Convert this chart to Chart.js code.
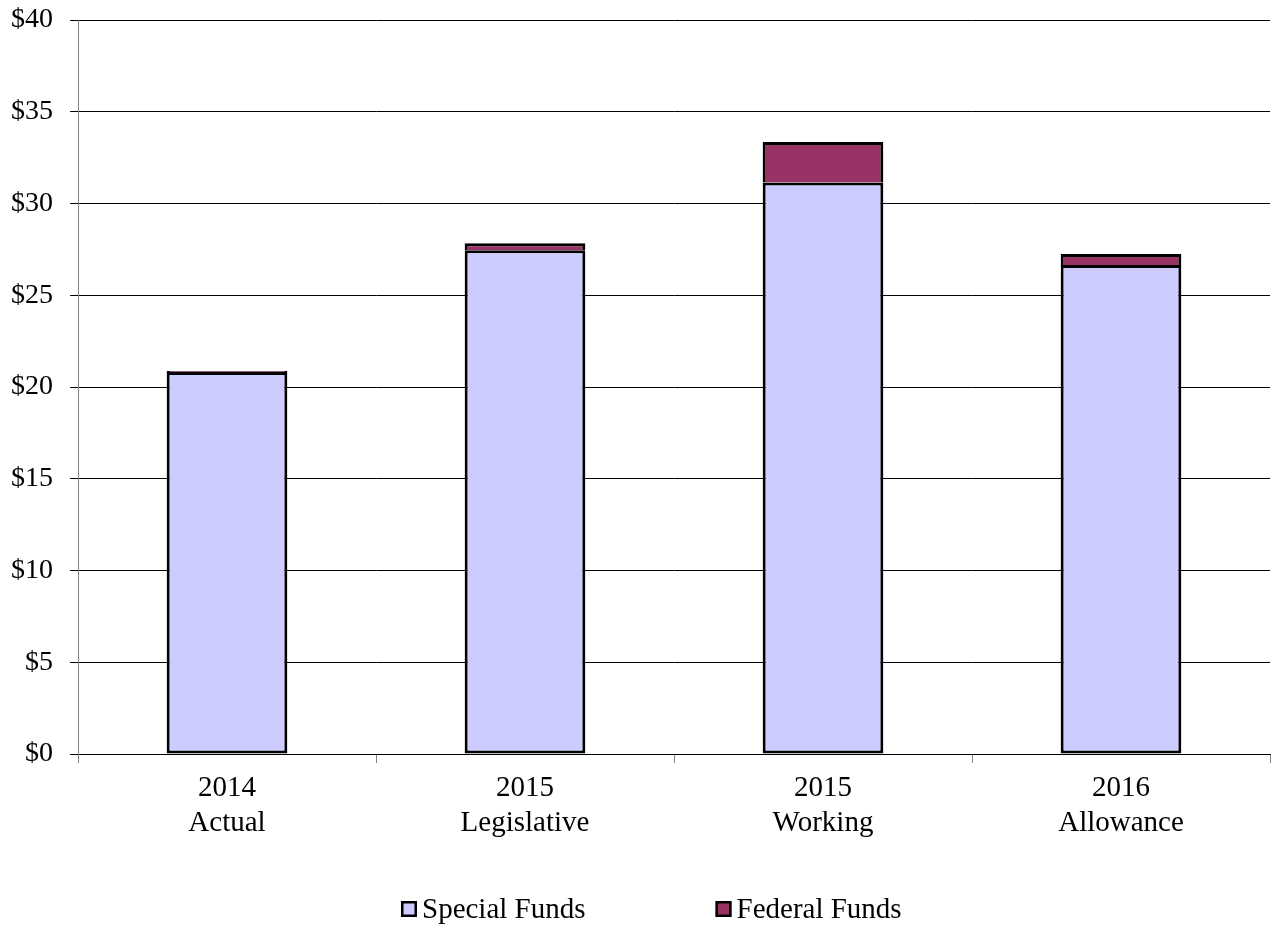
<!DOCTYPE html>
<html>
<head>
<meta charset="utf-8">
<script src="https://cdn.jsdelivr.net/npm/chart.js@4/dist/chart.umd.min.js"></script>
<style>
  body { margin: 0; background: #fff; }
</style>
</head>
<body>
<canvas id="fundsChart" width="1272" height="926"></canvas>
<script>
const categories = [['2014', 'Actual'], ['2015', 'Legislative'], ['2015', 'Working'], ['2016', 'Allowance']];
const specialFunds = [20.82, 27.45, 31.15, 26.65];
const federalFunds = [0.05, 0.38, 2.2, 0.6];
const yTicks = [0, 5, 10, 15, 20, 25, 30, 35, 40];

const serif = '"Liberation Serif", "Times New Roman", serif';
Chart.defaults.font.family = serif;
Chart.defaults.font.size = 28;
Chart.defaults.color = '#000';

// legend drawn by hand: small box right against the text, wide gap between items
const boxLegend = {
    id: 'boxLegend',
    afterDraw(chart) {
        const c = chart.ctx;
        const box = 16, textGap = 5, itemGap = 130;
        const y = 909;
        let x = 401;
        c.save();
        c.font = '29px ' + serif;
        c.textBaseline = 'middle';
        chart.data.datasets.forEach(ds => {
            c.fillStyle = ds.backgroundColor;
            c.fillRect(x, y - box / 2, box, box);
            c.lineWidth = 2.5;
            c.strokeStyle = '#000';
            c.strokeRect(x + 1.25, y - box / 2 + 1.25, box - 2.5, box - 2.5);
            c.fillStyle = '#000';
            c.fillText(ds.label, x + box + textGap, y + 1);
            x += box + textGap + c.measureText(ds.label).width + itemGap;
        });
        c.restore();
    }
};

const ctx = document.getElementById('fundsChart').getContext('2d');
new Chart(ctx, {
    type: 'bar',
    data: {
        labels: categories,
        datasets: [
            {
                label: 'Special Funds',
                data: specialFunds,
                backgroundColor: '#ccccff',
                borderColor: '#000',
                borderWidth: 3,
                borderSkipped: false,
                categoryPercentage: 0.405,
                barPercentage: 1.0
            },
            {
                label: 'Federal Funds',
                data: federalFunds,
                backgroundColor: '#993366',
                borderColor: '#000',
                borderWidth: 3,
                borderSkipped: 'bottom',
                categoryPercentage: 0.405,
                barPercentage: 1.0
            }
        ]
    },
    options: {
        responsive: false,
        animation: false,
        layout: { padding: { top: 20, right: 2, left: 0, bottom: 0 } },
        scales: {
            x: {
                stacked: true,
                afterFit: s => { s.height = 172; },
                border: { color: '#000', width: 1 },
                grid: { drawOnChartArea: false, drawTicks: true, tickLength: 9, color: '#808080', offset: true },
                ticks: { padding: 8, font: { size: 29, lineHeight: 1.2 } }
            },
            y: {
                stacked: true,
                min: 0,
                max: 40,
                afterBuildTicks: s => { s.ticks = yTicks.map(v => ({ value: v })); },
                afterFit: s => {
                    s.width = 78;
                    s.paddingTop = 0;
                    s.paddingBottom = 0;
                },
                border: { color: '#808080', width: 1 },
                grid: { color: '#000', lineWidth: 1, tickLength: 8 },
                ticks: { callback: v => '$' + v, padding: 17 }
            }
        },
        plugins: {
            legend: { display: false },
            tooltip: { enabled: false }
        }
    },
    plugins: [boxLegend]
});
</script>
</body>
</html>
